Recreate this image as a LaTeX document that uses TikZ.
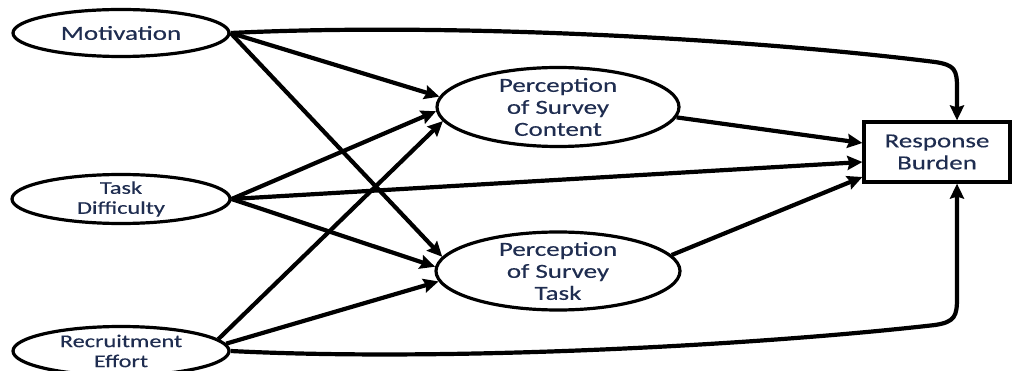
\documentclass[tikz,border=0pt]{standalone}
\usepackage{fontspec}
\setmainfont{Carlito}[FakeStretch=1.35,FakeBold=0.4]
\usetikzlibrary{arrows.meta,shapes.geometric,calc}
\definecolor{labelblue}{RGB}{31,45,80}
\tikzset{
  factor/.style={ellipse, draw, line width=3.2pt, inner xsep=0pt, inner ysep=-16pt,
    text=labelblue, align=center},
  outcome/.style={rectangle, draw, line width=3.2pt, inner sep=0pt, text=labelblue,
    align=center, minimum width=146pt, minimum height=60pt,
    font=\fontsize{20}{22}\selectfont},
  path/.style={line width=4.2pt, -{Stealth[length=15pt,width=14pt,inset=2pt]}},
}
\begin{document}
\begin{tikzpicture}[x=1pt,y=-1pt]
\useasboundingbox (0,0) rectangle (1014,371);

% exogenous factors
\node[factor, minimum width=216pt, minimum height=47pt,
  font=\fontsize{20}{22}\selectfont] (mot) at (121,33) {Motivation};
\node[factor, minimum width=218pt, minimum height=49pt,
  font=\fontsize{18}{20}\selectfont] (td) at (121,199) {Task\\Difficulty};
\node[factor, minimum width=216pt, minimum height=49pt,
  font=\fontsize{18}{20}\selectfont] (re) at (121,351) {Recruitment\\Effort};

% perceptions
\node[factor, minimum width=242pt, minimum height=79pt,
  font=\fontsize{20}{22}\selectfont] (psc) at (558,107) {Perception\\of Survey\\Content};
\node[factor, minimum width=244pt, minimum height=78pt,
  font=\fontsize{20}{22}\selectfont] (pst) at (558,271) {Perception\\of Survey\\Task};

% outcome
\node[outcome] (rb) at (937,152) {Response\\Burden};

% paths into the perceptions
\draw[path] (mot.east) -- (psc.175);
\draw[path] (mot.east) -- (pst.173);
\draw[path] (td.east) -- (psc.182);
\draw[path] (td.east) -- (pst.178);
\draw[path] (re.7) -- (psc.187);
\draw[path] (re.4) -- (pst.185);

% paths into response burden
\draw[path] (psc.-5) -- ($(rb.west)+(0,-9)$);
\draw[path] (td.east) -- ($(rb.west)+(0,10)$);
\draw[path] (pst.8) -- ($(rb.west)+(0,25)$);
\draw[path] (mot.east) .. controls (460,22) and (760,40) .. (935,62)
  .. controls (955,65) and (957,70) .. (957,88) -- ($(rb.north)+(20,0)$);
\draw[path] (re.east) .. controls (450,362) and (760,345) .. (935,325)
  .. controls (955,322) and (957,316) .. (957,298) -- ($(rb.south)+(20,0)$);
\end{tikzpicture}
\end{document}
